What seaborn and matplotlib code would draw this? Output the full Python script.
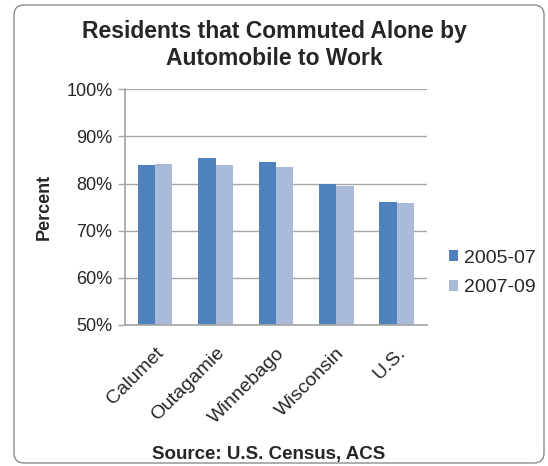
import matplotlib
matplotlib.use("Agg")
import matplotlib.pyplot as plt
import seaborn as sns
import pandas as pd
from matplotlib.patches import FancyBboxPatch
from matplotlib.ticker import FuncFormatter

places = ["Calumet", "Outagamie", "Winnebago", "Wisconsin", "U.S."]
share_2005_07 = [83.9, 85.4, 84.5, 80.0, 76.0]
share_2007_09 = [84.1, 83.9, 83.5, 79.5, 75.8]
periods = ["2005-07", "2007-09"]

df = pd.DataFrame({
    "place": places * 2,
    "value": share_2005_07 + share_2007_09,
    "period": [periods[0]] * len(places) + [periods[1]] * len(places),
})

sns.set_theme(style="white")
plt.rcParams['font.family'] = ['Liberation Sans', 'DejaVu Sans']

fig = plt.figure(figsize=(5.48, 4.66), dpi=100)
ax = fig.add_axes([0.228, 0.3026, 0.551, 0.5058])

sns.barplot(data=df, x="place", y="value", hue="period", ax=ax,
            palette=["#4F81BD", "#AABBD9"], width=0.57, saturation=1,
            linewidth=0, dodge=True)

ax.set_ylim(50, 100)
ax.set_yticks(range(50, 101, 10))
ax.yaxis.set_major_formatter(FuncFormatter(lambda v, _: f"{v:.0f}%"))
ax.grid(axis="y", color="#A6A6A6", linewidth=1)
ax.set_axisbelow(True)
for side in ["top", "right"]:
    ax.spines[side].set_visible(False)
ax.spines["left"].set_color("#A6A6A6")
ax.spines["bottom"].set_color("#A6A6A6")
ax.tick_params(axis="y", left=True, length=5, color="#A6A6A6", labelsize=13,
               pad=4, width=1)
ax.tick_params(axis="x", bottom=False, labelsize=14, pad=8)

# rotated category labels
for lbl in ax.get_xticklabels():
    lbl.set_rotation(45)
    lbl.set_ha("right")
    lbl.set_va("top")
    lbl.set_rotation_mode("anchor")

ax.set_xlabel("")
ax.set_ylabel("Percent", fontsize=13, fontweight="bold", labelpad=10)

ax.legend(loc="center left", bbox_to_anchor=(1.04, 0.22), frameon=False,
          fontsize=14, handlelength=0.5, handleheight=0.5, labelspacing=0.65,
          handletextpad=0.3, borderpad=0)

fig.text(0.5, 0.957, "Residents that Commuted Alone by\nAutomobile to Work",
         ha="center", va="top", fontsize=16.5, fontweight="bold",
         linespacing=1.22)
fig.text(0.49, 0.024, "Source: U.S. Census, ACS", ha="center", va="center",
         fontsize=13.5, fontweight="bold")

# rounded chart border
frame = FancyBboxPatch((0.14, 0.03), 5.30, 4.58,
                       boxstyle="round,pad=0,rounding_size=0.1",
                       transform=fig.dpi_scale_trans, fill=False,
                       edgecolor="#8C8C8C", linewidth=1)
fig.patches.append(frame)

fig.savefig("out.png", dpi=100)
